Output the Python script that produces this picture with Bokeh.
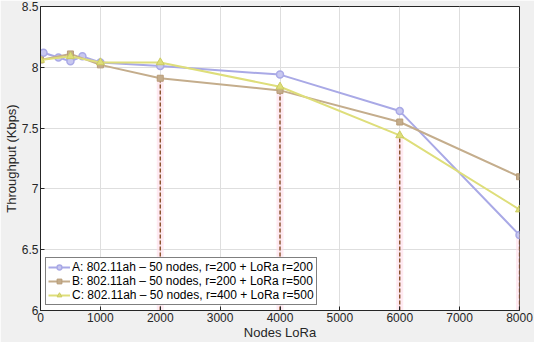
from bokeh.plotting import figure
from bokeh.models import Legend, LegendItem, FixedTicker, Range1d
from bokeh.embed import file_html
from bokeh.resources import INLINE

# Data
xa = [50, 300, 500, 700, 1000, 2000, 4000, 6000, 8000]
ya = [8.12, 8.08, 8.05, 8.09, 8.04, 8.01, 7.94, 7.64, 6.62]
xb = [0, 500, 1000, 2000, 4000, 6000, 8000]
yb = [8.06, 8.11, 8.02, 7.91, 7.81, 7.55, 7.10]
xc = [0, 500, 1000, 2000, 4000, 6000, 8000]
yc = [8.06, 8.09, 8.04, 8.04, 7.84, 7.44, 6.83]
drop_x = [2000, 4000, 6000, 8000]
drop_top = [7.91, 7.81, 7.44, 6.62]
labels = ["A: 802.11ah \u2013 50 nodes, r=200 + LoRa r=200",
          "B: 802.11ah \u2013 50 nodes, r=200 + LoRa r=500",
          "C: 802.11ah \u2013 50 nodes, r=400 + LoRa r=500"]
xticks = [0, 1000, 2000, 3000, 4000, 5000, 6000, 7000, 8000]
yticks = [6, 6.5, 7, 7.5, 8, 8.5]

FONT = "Liberation Sans"
p = figure(width=534, height=342, output_backend="svg", toolbar_location=None,
           x_range=Range1d(0, 8000), y_range=Range1d(6, 8.5),
           min_border_left=37, min_border_top=6, min_border_right=15, min_border_bottom=32)
p.border_fill_color = "#f0f0f0"
p.background_fill_color = "white"
p.outline_line_color = "#262626"
p.outline_line_width = 1

for ax in (p.xaxis[0], p.yaxis[0]):
    ax.major_tick_in = 4
    ax.major_tick_out = 0
    ax.minor_tick_in = 0
    ax.minor_tick_out = 0
    ax.axis_line_color = "#262626"
    ax.major_tick_line_color = "#262626"
    ax.major_label_text_font = FONT
    ax.major_label_text_font_size = "12px"
    ax.major_label_text_color = "#262626"
    ax.axis_label_text_font = FONT
    ax.axis_label_text_font_size = "13px"
    ax.axis_label_text_font_style = "normal"
    ax.axis_label_text_color = "#262626"

p.xaxis.ticker = FixedTicker(ticks=xticks)
p.yaxis.ticker = FixedTicker(ticks=yticks)
p.yaxis.major_label_overrides = {6: "6", 6.5: "6.5", 7: "7", 7.5: "7.5", 8: "8", 8.5: "8.5"}
p.xaxis.axis_label = "Nodes LoRa"
p.yaxis.axis_label = "Throughput (Kbps)"
p.xaxis.axis_label_standoff = 0
p.yaxis.axis_label_standoff = 0
p.xaxis.major_label_standoff = 2
p.yaxis.major_label_standoff = 2
p.grid.grid_line_color = "#dedede"

# drop lines
p.segment(x0=drop_x, y0=[6] * 4, x1=drop_x, y1=drop_top, line_color="#ffdcea", line_width=7, line_alpha=0.6)
p.segment(x0=drop_x, y0=[6] * 4, x1=drop_x, y1=drop_top, line_color="#7f4418", line_width=1.3, line_dash="4 2")

ca, cb, cc = "#a9a9e6", "#c4ad8c", "#dede7a"
la = p.line(xa, ya, line_color=ca, line_width=2)
sa = p.scatter(xa, ya, marker="circle", size=7, fill_color="#c8c8f0", line_color=ca, line_width=1.5)
lb = p.line(xb, yb, line_color=cb, line_width=2)
sb = p.scatter(xb, yb, marker="square", size=6, fill_color=cb, line_color="#b89c78", line_width=1)
lc = p.line(xc, yc, line_color=cc, line_width=2)
sc = p.scatter(xc, yc, marker="triangle", size=8, fill_color=cc, line_color="#cccc60", line_width=1)

legend = Legend(items=[LegendItem(label=labels[0], renderers=[la, sa]),
                       LegendItem(label=labels[1], renderers=[lb, sb]),
                       LegendItem(label=labels[2], renderers=[lc, sc])],
                location=(5, 5))
legend.label_text_font = FONT
legend.label_text_font_size = "12px"
legend.label_text_color = "#000000"
legend.border_line_color = "#000000"
legend.border_line_width = 1.2
legend.background_fill_alpha = 1
legend.padding = 2
legend.spacing = 0
legend.margin = 0
legend.label_height = 12
legend.glyph_height = 12
legend.glyph_width = 22
legend.label_standoff = 2
p.add_layout(legend, "center")

open("out.html", "w").write(file_html(p, INLINE))
